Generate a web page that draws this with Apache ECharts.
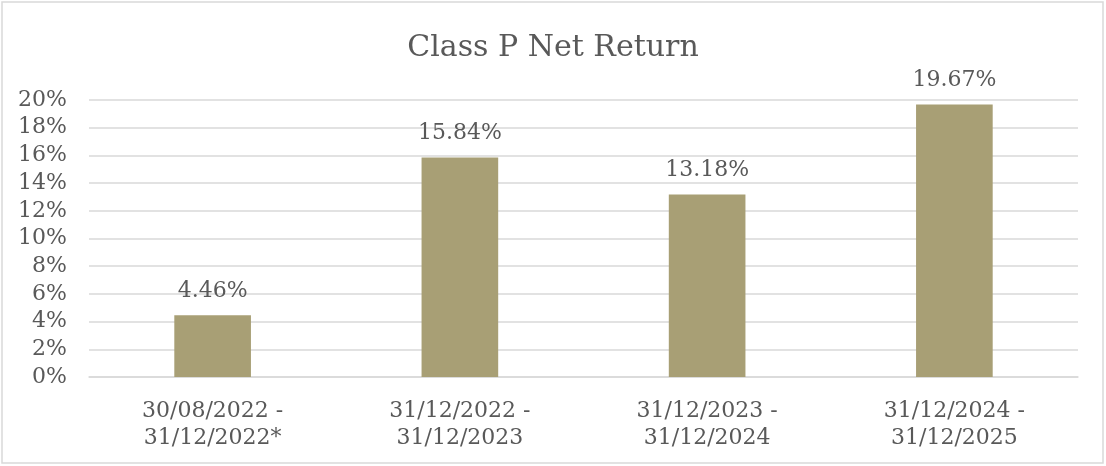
<!DOCTYPE html>
<html>
<head>
<meta charset="utf-8">
<script src="https://cdn.jsdelivr.net/npm/echarts@6/dist/echarts.min.js"></script>
<style>
  html, body { margin: 0; padding: 0; background: #fff; }
  #chart { width: 1106px; height: 466px; }
</style>
</head>
<body>
<div id="chart"></div>
<script>
// periods on the x axis
const periods = [
    '30/08/2022 -\n31/12/2022*',
    '31/12/2022 -\n31/12/2023',
    '31/12/2023 -\n31/12/2024',
    '31/12/2024 -\n31/12/2025'
]
// net return, percent
const netReturn = [4.46, 15.84, 13.18, 19.67]

const textColor = '#595959'
const serif = '"DejaVu Serif", serif'

const myChart = echarts.init(document.getElementById('chart'))
myChart.setOption({
    animation: false,
    textStyle: { fontFamily: serif, color: textColor },
    title: {
        text: 'Class P Net Return',
        left: 'center',
        top: 28,
        textStyle: {
            fontFamily: serif,
            fontSize: 30,
            fontWeight: 'normal',
            color: textColor
        }
    },
    graphic: [{
        type: 'rect',
        shape: { x: 2, y: 2, width: 1101, height: 461 },
        style: { fill: 'none', stroke: '#d9d9d9', lineWidth: 1.5 },
        silent: true
    }],
    grid: { left: 89, right: 28, top: 100, bottom: 89 },
    xAxis: {
        type: 'category',
        data: periods,
        axisTick: { show: false },
        axisLine: { lineStyle: { color: '#d9d9d9', width: 1.5 } },
        axisLabel: {
            fontFamily: serif,
            fontSize: 22,
            color: textColor,
            lineHeight: 27,
            margin: 21
        }
    },
    yAxis: {
        type: 'value',
        min: 0,
        max: 20,
        interval: 2,
        axisLine: { show: false },
        axisTick: { show: false },
        splitLine: { lineStyle: { color: '#d9d9d9', width: 1.5 } },
        axisLabel: {
            fontFamily: serif,
            fontSize: 22,
            color: textColor,
            margin: 22,
            formatter: v => v + '%'
        }
    },
    series: [{
        type: 'bar',
        data: netReturn,
        barWidth: '31%',
        itemStyle: { color: '#A89F75' },
        label: {
            show: true,
            position: 'top',
            distance: 13,
            fontFamily: serif,
            fontSize: 22,
            color: textColor,
            formatter: p => p.value.toFixed(2) + '%'
        }
    }]
})
</script>
</body>
</html>
